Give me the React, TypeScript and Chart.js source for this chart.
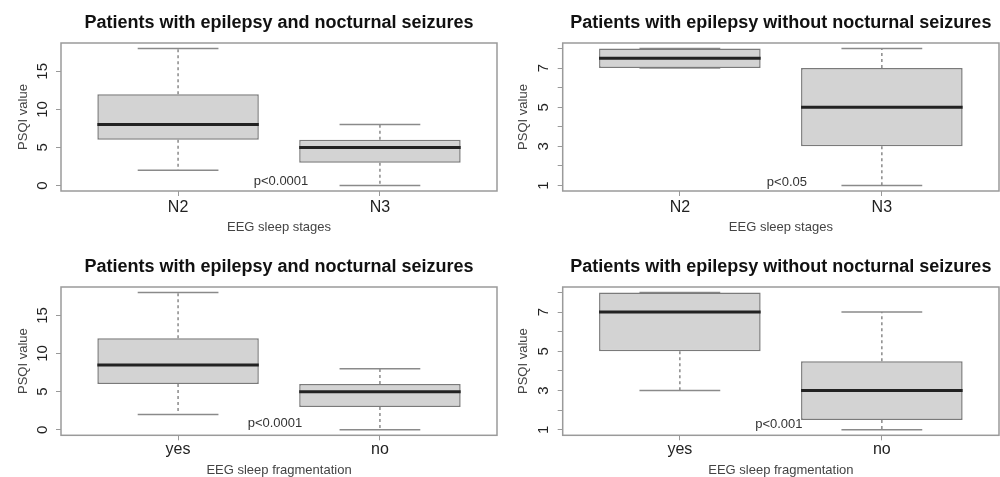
import React, { useEffect, useRef } from 'react';
import { Chart, registerables } from 'chart.js';

Chart.register(...registerables);

const FONT = '"Liberation Sans", Arial, Helvetica, sans-serif';

// ---- text ----
const titleWith = 'Patients with epilepsy and nocturnal seizures';
const titleWithout = 'Patients with epilepsy without nocturnal seizures';
const stageCategories = ['N2', 'N3'];
const fragCategories = ['yes', 'no'];
const stageAxisTitle = 'EEG sleep stages';
const fragAxisTitle = 'EEG sleep fragmentation';
const yAxisTitle = 'PSQI value';

// ---- y ticks ----
const wideTicks = [0, 5, 10, 15];
const wideTickLabels = ['0', '5', '10', '15'];
const narrowTicks = [1, 2, 3, 4, 5, 6, 7, 8];
const narrowTickLabels = ['1', '', '3', '', '5', '', '7', ''];

// ---- box statistics (whisker low, Q1, median, Q3, whisker high) ----
// A: nocturnal seizures, sleep stages
const aLow = [2, 0];
const aQ1 = [6, 3];
const aMed = [8, 5];
const aQ3 = [12, 6];
const aHigh = [18, 8];
// B: without nocturnal seizures, sleep stages
const bLow = [7, 1];
const bQ1 = [7, 3];
const bMed = [7.5, 5];
const bQ3 = [8, 7];
const bHigh = [8, 8];
// C: nocturnal seizures, sleep fragmentation
const cLow = [2, 0];
const cQ1 = [6, 3];
const cMed = [8.5, 5];
const cQ3 = [12, 6];
const cHigh = [18, 8];
// D: without nocturnal seizures, sleep fragmentation
const dLow = [3, 1];
const dQ1 = [5, 1.5];
const dMed = [7, 3];
const dQ3 = [8, 4.5];
const dHigh = [8, 7];

// ---- p-value annotations ----
const pLabels = ['p<0.0001', 'p<0.05', 'p<0.0001', 'p<0.001'];
const pLabelX = [1.51, 1.53, 1.48, 1.49];
const pLabelY = [0.5, 1.18, 0.8, 1.26];

type PanelCfg = {
  title: string; cats: string[]; xTitle: string;
  low: number[]; q1: number[]; med: number[]; q3: number[]; high: number[];
  yTicks: number[]; yLabels: string[];
  p: string; pX: number; pY: number;
  left: number; top: number; w: number; h: number;
  yAxisW: number; rightPad: number; xAxisH: number;
  titleTop: number; titleBottom: number; xTickPad: number; xTitlePad: number; yTickPad: number;
};

const panels: PanelCfg[] = [
  {
    title: titleWith, cats: stageCategories, xTitle: stageAxisTitle,
    low: aLow, q1: aQ1, med: aMed, q3: aQ3, high: aHigh,
    yTicks: wideTicks, yLabels: wideTickLabels,
    p: pLabels[0], pX: pLabelX[0], pY: pLabelY[0],
    left: 0, top: 0, w: 500, h: 238,
    yAxisW: 61, rightPad: 3, xAxisH: 47,
    titleTop: 12.2, titleBottom: 9.2, xTickPad: 2, xTitlePad: 3.2, yTickPad: 4.8,
  },
  {
    title: titleWithout, cats: stageCategories, xTitle: stageAxisTitle,
    low: bLow, q1: bQ1, med: bMed, q3: bQ3, high: bHigh,
    yTicks: narrowTicks, yLabels: narrowTickLabels,
    p: pLabels[1], pX: pLabelX[1], pY: pLabelY[1],
    left: 500, top: 0, w: 500, h: 238,
    yAxisW: 62.7, rightPad: 1, xAxisH: 47,
    titleTop: 12.2, titleBottom: 9.2, xTickPad: 2, xTitlePad: 3.2, yTickPad: 9.5,
  },
  {
    title: titleWith, cats: fragCategories, xTitle: fragAxisTitle,
    low: cLow, q1: cQ1, med: cMed, q3: cQ3, high: cHigh,
    yTicks: wideTicks, yLabels: wideTickLabels,
    p: pLabels[2], pX: pLabelX[2], pY: pLabelY[2],
    left: 0, top: 238, w: 500, h: 245,
    yAxisW: 61, rightPad: 3, xAxisH: 47.7,
    titleTop: 18.2, titleBottom: 9.2, xTickPad: 0, xTitlePad: 4.4, yTickPad: 4.8,
  },
  {
    title: titleWithout, cats: fragCategories, xTitle: fragAxisTitle,
    low: dLow, q1: dQ1, med: dMed, q3: dQ3, high: dHigh,
    yTicks: narrowTicks, yLabels: narrowTickLabels,
    p: pLabels[3], pX: pLabelX[3], pY: pLabelY[3],
    left: 500, top: 238, w: 500, h: 245,
    yAxisW: 62.7, rightPad: 1, xAxisH: 47.7,
    titleTop: 18.2, titleBottom: 9.2, xTickPad: 0, xTitlePad: 4.4, yTickPad: 9.5,
  },
];

function BoxPanel({ cfg }: { cfg: PanelCfg }) {
  const ref = useRef<HTMLCanvasElement>(null);
  useEffect(() => {
    const c = cfg;
    const xPos = c.cats.map((_, i) => i + 1);
    const lo = Math.min(...c.low);
    const hi = Math.max(...c.high);
    const yMin = lo - 0.04 * (hi - lo);
    const yMax = hi + 0.04 * (hi - lo);
    const n = c.cats.length;
    const xMin = 0.5 - 0.04 * n;
    const xMax = n + 0.5 + 0.04 * n;

    const plugin = {
      id: 'boxExtras',
      beforeDatasetsDraw(chart: any) {
        const { ctx } = chart;
        const x = chart.scales.x;
        const y = chart.scales.y;
        ctx.save();
        ctx.strokeStyle = '#8a8a8a';
        ctx.lineWidth = 1.5;
        ctx.setLineDash([3, 3]);
        xPos.forEach((xv, i) => {
          const px = x.getPixelForValue(xv);
          ctx.beginPath();
          ctx.moveTo(px, y.getPixelForValue(c.q3[i]));
          ctx.lineTo(px, y.getPixelForValue(c.high[i]));
          ctx.moveTo(px, y.getPixelForValue(c.q1[i]));
          ctx.lineTo(px, y.getPixelForValue(c.low[i]));
          ctx.stroke();
        });
        ctx.setLineDash([]);
        xPos.forEach((xv, i) => {
          const l = x.getPixelForValue(xv - 0.2);
          const r = x.getPixelForValue(xv + 0.2);
          [c.low[i], c.high[i]].forEach((v) => {
            const py = y.getPixelForValue(v);
            ctx.beginPath();
            ctx.moveTo(l, py);
            ctx.lineTo(r, py);
            ctx.stroke();
          });
        });
        ctx.restore();
      },
      afterDatasetsDraw(chart: any) {
        const { ctx, chartArea: a } = chart;
        const x = chart.scales.x;
        const y = chart.scales.y;
        ctx.save();
        ctx.strokeStyle = '#222';
        ctx.lineWidth = 3;
        xPos.forEach((xv, i) => {
          const py = y.getPixelForValue(c.med[i]);
          ctx.beginPath();
          ctx.moveTo(x.getPixelForValue(xv - 0.4), py);
          ctx.lineTo(x.getPixelForValue(xv + 0.4), py);
          ctx.stroke();
        });
        ctx.strokeStyle = '#9a9a9a';
        ctx.lineWidth = 1.5;
        ctx.strokeRect(a.left, a.top, a.right - a.left, a.bottom - a.top);
        ctx.font = `13px ${FONT}`;
        ctx.fillStyle = '#333';
        ctx.textAlign = 'center';
        ctx.textBaseline = 'middle';
        ctx.fillText(c.p, x.getPixelForValue(c.pX), y.getPixelForValue(c.pY));
        ctx.restore();
      },
    };

    const chart = new Chart(ref.current as HTMLCanvasElement, {
      type: 'bar',
      data: {
        datasets: [
          {
            data: xPos.map((xv, i) => ({ x: xv, y: [c.q1[i], c.q3[i]] })) as any,
            backgroundColor: '#d3d3d3',
            borderColor: '#7a7a7a',
            borderWidth: 1.5,
            borderSkipped: false,
            barPercentage: 1,
            categoryPercentage: 0.8,
          },
        ],
      },
      options: {
        animation: false,
        responsive: false,
        events: [],
        layout: { padding: { left: 0, right: c.rightPad, top: 0, bottom: 0 } },
        plugins: {
          legend: { display: false },
          tooltip: { enabled: false },
          title: {
            display: true,
            text: c.title,
            fullSize: false,
            color: '#111',
            font: { family: FONT, size: 18, weight: 'bold', lineHeight: 1.2 },
            padding: { top: c.titleTop, bottom: c.titleBottom },
          },
        },
        scales: {
          x: {
            type: 'linear',
            min: xMin,
            max: xMax,
            offset: false,
            afterBuildTicks: (s: any) => { s.ticks = xPos.map((v) => ({ value: v })); },
            afterFit: (s: any) => { s.height = c.xAxisH; },
            ticks: {
              callback: (_v: any, i: number) => c.cats[i],
              font: { family: FONT, size: 16 },
              color: '#222',
              padding: c.xTickPad,
              autoSkip: false,
              minRotation: 0,
              maxRotation: 0,
            },
            grid: { display: true, offset: false, drawOnChartArea: false, drawTicks: true, tickLength: 5, tickColor: '#999', tickWidth: 1 },
            border: { display: false },
            title: {
              display: true,
              text: c.xTitle,
              color: '#444',
              font: { family: FONT, size: 13, lineHeight: 1.2 },
              padding: { top: 0, bottom: c.xTitlePad },
            },
          },
          y: {
            type: 'linear',
            min: yMin,
            max: yMax,
            afterBuildTicks: (s: any) => { s.ticks = c.yTicks.map((v) => ({ value: v })); },
            afterFit: (s: any) => { s.width = c.yAxisW; },
            ticks: {
              callback: (_v: any, i: number) => c.yLabels[i],
              font: { family: FONT, size: 15 },
              color: '#222',
              padding: c.yTickPad,
              minRotation: 90,
              crossAlign: 'center',
              autoSkip: false,
            },
            grid: { display: true, offset: false, drawOnChartArea: false, drawTicks: true, tickLength: 5, tickColor: '#999', tickWidth: 1 },
            border: { display: false },
            title: {
              display: true,
              text: yAxisTitle,
              color: '#444',
              font: { family: FONT, size: 13, lineHeight: 1.2 },
              padding: { top: 15.2, bottom: 0 },
            },
          },
        },
      } as any,
      plugins: [plugin],
    });
    return () => chart.destroy();
  }, [cfg]);

  return (
    <div style={{ position: 'absolute', left: cfg.left, top: cfg.top, width: cfg.w, height: cfg.h }}>
      <canvas ref={ref} width={cfg.w} height={cfg.h} style={{ display: 'block' }} />
    </div>
  );
}

export default function App() {
  return (
    <div
      style={{
        position: 'absolute',
        left: 0,
        top: 0,
        width: 1000,
        height: 477,
        overflow: 'hidden',
        background: '#fff',
      }}
    >
      {panels.map((p, i) => (
        <BoxPanel key={i} cfg={p} />
      ))}
    </div>
  );
}
